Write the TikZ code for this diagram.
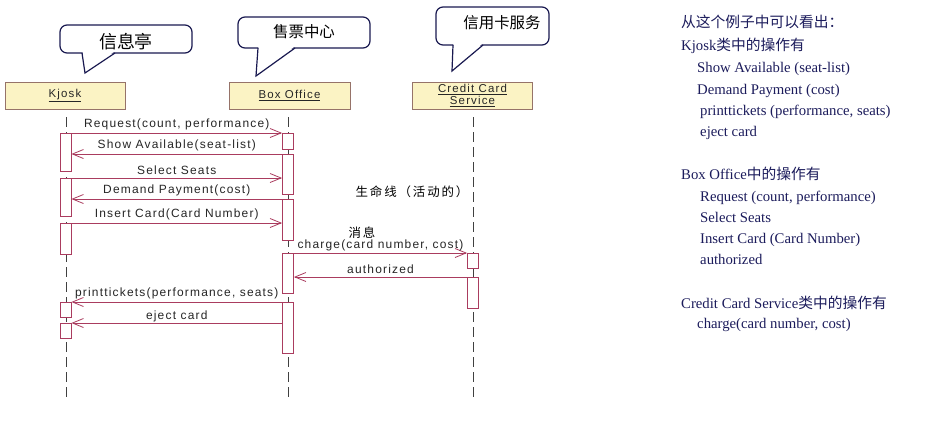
\documentclass[tikz,border=0pt]{standalone}
\usepackage{fontspec}
\setmainfont{Liberation Serif}
\newfontfamily\cjk{Noto Sans CJK SC}
\newfontfamily\cjkwide[LetterSpace=15]{Noto Sans CJK SC}
\newfontfamily\seqfont[LetterSpace=10]{Liberation Sans}
\usetikzlibrary{arrows.meta}
\definecolor{msgc}{RGB}{170,60,95}
\definecolor{boxfill}{RGB}{251,243,196}
\definecolor{boxdraw}{RGB}{150,115,105}
\definecolor{navy}{RGB}{25,25,80}
\definecolor{txt}{RGB}{28,28,92}
\begin{document}
\begin{tikzpicture}[x=1bp,y=-1bp,
 objbox/.style={draw=boxdraw, fill=boxfill, line width=0.8bp, minimum width=120bp, minimum height=27bp, inner sep=0pt, font=\seqfont\fontsize{11.5}{11.5}\selectfont, align=center, text=black!85},
 life/.style={draw=black!75, line width=0.8bp, dash pattern=on 10bp off 5bp},
 act/.style={draw=msgc, fill=white, line width=0.8bp, minimum width=11bp, inner sep=0pt, anchor=north},
 msg/.style={draw=msgc, line width=0.8bp, -{Straight Barb[length=11bp,width=9bp,line width=0.8bp]}},
 mlabel/.style={font=\seqfont\fontsize{12}{13}\selectfont, text=black!85, inner sep=1bp, anchor=south, yshift=1.5bp},
 callout/.style={draw=navy, line width=1.2bp, fill=white, rounded corners=7bp, inner sep=0pt},
 tail/.style={draw=navy, line width=1.2bp},
 ctext/.style={font=\cjk\fontsize{15.5}{17}\selectfont, text=black},
 rtext/.style={anchor=base west, font=\fontsize{14.8}{16}\selectfont, text=txt, inner sep=0pt},
]
\useasboundingbox (0,0) rectangle (948,421);
\fill[white] (0,0) rectangle (948,421);

% callouts
\node[callout, minimum width=132bp, minimum height=28bp] (co1) at (126,39) {};
\fill[white] (82.6,51.5) -- (85,73) -- (114.4,51.5) -- cycle;
\draw[tail] (82,53) -- (85,73) coordinate (t1) -- (115,53);
\node[ctext, font=\cjk\fontsize{18}{20}\selectfont] (ct1) at (126,42) {信息亭};

\node[callout, minimum width=132bp, minimum height=31bp] (co2) at (304,32.5) {};
\fill[white] (258.4,46.5) -- (256,76) -- (294.4,46.5) -- cycle;
\draw[tail] (258,48) -- (256,76) coordinate (t2) -- (295,48);
\node[ctext] (ct2) at (304,32) {售票中心};

\node[callout, minimum width=113bp, minimum height=38bp] (co3) at (492.5,26) {};
\fill[white] (453.4,43.5) -- (452,71) -- (482.4,43.5) -- cycle;
\draw[tail] (453,45) -- (452,71) coordinate (t3) -- (483,45);
\node[ctext] (ct3) at (502,23) {信用卡服务};

% objects
\node[objbox] (kiosk) at (65,95.5) {\underline{Kjosk}};
\node[objbox, minimum width=121bp] (boxoff) at (289.5,95.5) {\underline{Box Office}};
\node[objbox] (ccs) at (472.5,95.5) {\underline{Credit Card}\\\underline{Service}};

% lifelines
\coordinate (kend) at (66,397);
\coordinate (bend) at (288,397);
\coordinate (cend) at (473,397);
\draw[life] (66,117) -- (kend);
\draw[life] (288,117) -- (bend);
\draw[life] (473,117) -- (cend);

% activations
\node[act, minimum height=38bp] (k1) at (65.5,133) {};
\node[act, minimum height=38bp] (k2) at (65.5,178) {};
\node[act, minimum height=31bp] (k3) at (65.5,223) {};
\node[act, minimum height=15bp] (k4) at (65.5,302) {};
\node[act, minimum height=15bp] (k5) at (65.5,323) {};

\node[act, minimum height=16bp] (b1) at (288,133) {};
\node[act, minimum height=40bp] (b2) at (288,154) {};
\node[act, minimum height=41bp] (b3) at (288,199) {};
\node[act, minimum height=40bp] (b4) at (288,253) {};
\node[act, minimum height=51bp] (b5) at (288,302) {};

\node[act, minimum height=15bp] (c1) at (473,253) {};
\node[act, minimum height=31bp] (c2) at (473,277) {};

% messages
\draw[msg] (k1.north east) -- node[mlabel]{Request(count, performance)} (b1.north west);
\draw[msg] (b2.north west) -- node[mlabel]{Show Available(seat-list)} (k1.east |- b2.north);
\draw[msg] (k2.north east) -- node[mlabel]{Select Seats} (b2.west |- k2.north);
\draw[msg] (b3.north west) -- node[mlabel]{Demand Payment(cost)} (k2.east |- b3.north);
\draw[msg] (k3.north east) -- node[mlabel]{Insert Card(Card Number)} (b3.west |- k3.north);
\draw[msg] (b4.north east) -- node[mlabel, yshift=-1bp]{charge(card number, cost)} (c1.north west);
\draw[msg] (c2.north west) -- node[mlabel]{authorized} (b4.east |- c2.north);
\draw[msg] (b5.north west) -- node[mlabel]{printtickets(performance, seats)} (k4.north east);
\draw[msg] (b5.west |- k5.north) -- node[mlabel, yshift=-2bp]{eject card} (k5.north east);

% annotations
\node[font=\cjkwide\fontsize{12.5}{14}\selectfont, text=black] (lifenote) at (412,192) {生命线（活动的）};
\node[font=\cjkwide\fontsize{12.5}{14}\selectfont, text=black] (msgnote) at (362,233) {消息};

% right-hand text
\node[rtext] (r1) at (681,27) {{\cjk 从这个例子中可以看出：}};
\node[rtext] (r2) at (681,50) {Kjosk{\cjk 类中的操作有}};
\node[rtext] (r3) at (697,72) {Show Available (seat-list)};
\node[rtext] (r4) at (697,94) {Demand Payment (cost)};
\node[rtext] (r5) at (700,115) {printtickets (performance, seats)};
\node[rtext] (r6) at (700,136) {eject card};
\node[rtext] (r7) at (681,179) {Box Office{\cjk 中的操作有}};
\node[rtext] (r8) at (700,201) {Request (count, performance)};
\node[rtext] (r9) at (700,222) {Select Seats};
\node[rtext] (r10) at (700,243) {Insert Card (Card Number)};
\node[rtext] (r11) at (700,264) {authorized};
\node[rtext] (r12) at (681,308) {Credit Card Service{\cjk 类中的操作有}};
\node[rtext] (r13) at (697,328) {charge(card number, cost)};
\end{tikzpicture}
\end{document}
